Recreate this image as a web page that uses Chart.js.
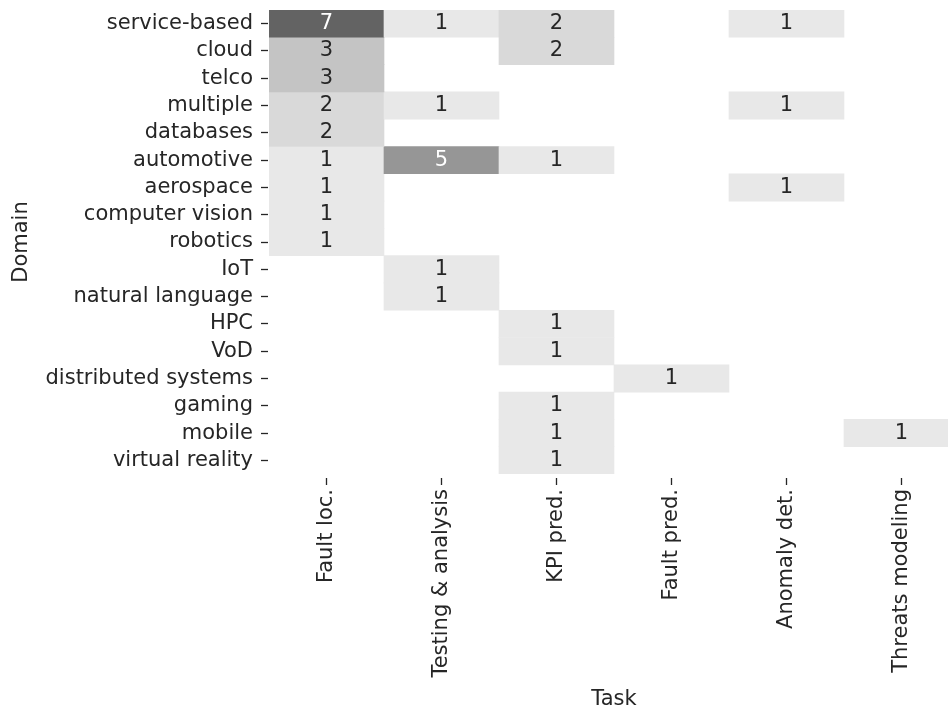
<!DOCTYPE html>
<html>
<head>
<meta charset="utf-8">
<script src="https://cdn.jsdelivr.net/npm/chart.js@4.4.1/dist/chart.umd.min.js"></script>
<style>
    html, body { margin: 0; padding: 0; background: #fff; overflow: hidden; }
    #wrap { width: 959px; height: 710px; }
</style>
</head>
<body>
<div id="wrap"><canvas id="heatmap"></canvas></div>
<script>
// Rows (domains) and columns (tasks)
const domains = [
    'service-based', 'cloud', 'telco', 'multiple', 'databases', 'automotive',
    'aerospace', 'computer vision', 'robotics', 'IoT', 'natural language',
    'HPC', 'VoD', 'distributed systems', 'gaming', 'mobile', 'virtual reality'
];
const tasks = ['Fault loc.', 'Testing & analysis', 'KPI pred.', 'Fault pred.', 'Anomaly det.', 'Threats modeling'];

// Counts per task, one entry per domain (0 = empty cell)
const faultLoc        = [7, 3, 3, 2, 2, 1, 1, 1, 1, 0, 0, 0, 0, 0, 0, 0, 0];
const testingAnalysis = [1, 0, 0, 1, 0, 5, 0, 0, 0, 1, 1, 0, 0, 0, 0, 0, 0];
const kpiPred         = [2, 2, 0, 0, 0, 1, 0, 0, 0, 0, 0, 1, 1, 0, 1, 1, 1];
const faultPred       = [0, 0, 0, 0, 0, 0, 0, 0, 0, 0, 0, 0, 0, 1, 0, 0, 0];
const anomalyDet      = [1, 0, 0, 1, 0, 0, 1, 0, 0, 0, 0, 0, 0, 0, 0, 0, 0];
const threatsModeling = [0, 0, 0, 0, 0, 0, 0, 0, 0, 0, 0, 0, 0, 0, 0, 1, 0];

const columns = [faultLoc, testingAnalysis, kpiPred, faultPred, anomalyDet, threatsModeling];

// greys colour map
const greys = { 1: '#e8e8e8', 2: '#d9d9d9', 3: '#c4c4c4', 4: '#adadad', 5: '#969696', 6: '#7a7a7a', 7: '#636363' };
function cellColor(v) {
    return greys[v] || '#ffffff';
}
function textColor(v) {
    return v >= 5 ? '#ffffff' : '#262626';
}

const FONT = { family: '"DejaVu Sans", sans-serif', size: 21 };

// one bar dataset per domain row, floating over its row slot
const datasets = domains.map(function(d, r) {
    const values = columns.map(col => col[r]);
    return {
        label: d,
        counts: values,
        data: values.map(v => v > 0 ? [r - 0.5, r + 0.5] : null),
        backgroundColor: values.map(cellColor),
        borderWidth: 0,
        grouped: false,
        barPercentage: 1,
        categoryPercentage: 1
    };
});

// write the count in the middle of each cell
const cellLabels = {
    id: 'cellLabels',
    afterDatasetsDraw(chart) {
        const ctx = chart.ctx;
        ctx.save();
        ctx.font = FONT.size + 'px ' + FONT.family;
        ctx.textAlign = 'center';
        ctx.textBaseline = 'middle';
        chart.data.datasets.forEach(function(ds, i) {
            const meta = chart.getDatasetMeta(i);
            meta.data.forEach(function(bar, j) {
                const v = ds.counts[j];
                if (!v) return;
                ctx.fillStyle = textColor(v);
                ctx.fillText(String(v), bar.x, (bar.y + bar.base) / 2);
            });
        });
        ctx.restore();
    }
};

new Chart(document.getElementById('heatmap'), {
    type: 'bar',
    data: { labels: tasks, datasets: datasets },
    plugins: [cellLabels],
    options: {
        responsive: true,
        maintainAspectRatio: false,
        animation: false,
        layout: { padding: { top: 10, right: 0, bottom: 0, left: 0 } },
        plugins: {
            legend: { display: false },
            tooltip: { enabled: false }
        },
        scales: {
            x: {
                type: 'category',
                offset: true,
                border: { display: false },
                grid: {
                    offset: false,
                    drawOnChartArea: false,
                    tickLength: 11,
                    tickWidth: 1.3,
                    tickColor: '#262626',
                    tickBorderDash: [0, 4, 7, 1000]
                },
                ticks: {
                    autoSkip: false,
                    minRotation: 90,
                    maxRotation: 90,
                    padding: 4,
                    color: '#262626',
                    font: FONT
                },
                title: {
                    display: true,
                    text: 'Task',
                    color: '#262626',
                    font: { family: FONT.family, size: 21, lineHeight: 1.0 },
                    padding: { top: 0, bottom: 0 }
                },
                afterFit(scale) {
                    scale.height = 236;
                    scale.paddingLeft = 0;
                    scale.paddingRight = 0;
                }
            },
            y: {
                type: 'linear',
                reverse: true,
                min: -0.5,
                max: domains.length - 0.5,
                border: { display: false },
                grid: {
                    drawOnChartArea: false,
                    tickLength: 8,
                    tickWidth: 1.3,
                    tickColor: '#262626',
                    tickBorderDash: [7, 1000]
                },
                afterBuildTicks(scale) {
                    scale.ticks = domains.map((d, i) => ({ value: i }));
                },
                ticks: {
                    autoSkip: false,
                    padding: 8,
                    color: '#262626',
                    font: FONT,
                    callback: v => domains[v]
                },
                title: {
                    display: true,
                    text: 'Domain',
                    color: '#262626',
                    font: FONT,
                    padding: { top: 9, bottom: 0 }
                },
                afterFit(scale) {
                    scale.width = 269;
                    scale.paddingTop = 0;
                    scale.paddingBottom = 0;
                }
            }
        }
    }
});
</script>
</body>
</html>
